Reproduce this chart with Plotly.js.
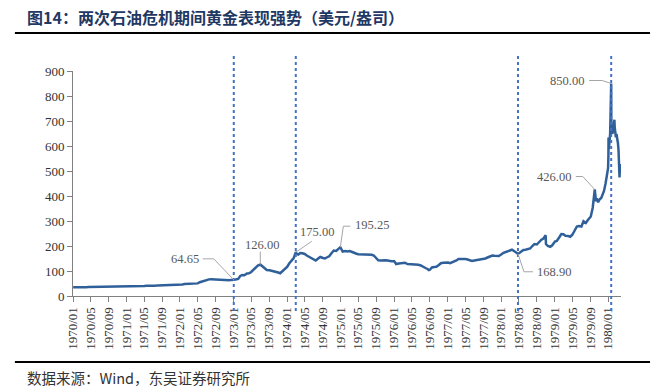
<!DOCTYPE html>
<html>
<head>
<meta charset="utf-8">
<script src="https://cdn.plot.ly/plotly-3.0.1.min.js"></script>
<style>html,body{margin:0;padding:0;background:#fff;}#chart{width:665px;height:390px;}</style>
</head>
<body>
<div id="chart"></div>
<script>
// ---- data (gold price, USD/oz) ----
const dates = [
 '1970-01-02','1970-01-15','1970-02-02','1970-02-16','1970-03-02','1970-03-16','1970-04-01','1970-04-15','1970-05-01','1970-05-15','1970-06-01','1970-06-15',
 '1970-07-01','1970-07-15','1970-08-03','1970-08-17','1970-09-01','1970-09-15','1970-10-01','1970-10-15','1970-11-02','1970-11-16','1970-12-01','1970-12-15',
 '1971-01-04','1971-01-15','1971-02-01','1971-02-15','1971-03-01','1971-03-15','1971-04-01','1971-04-15','1971-05-03','1971-05-17','1971-06-01','1971-06-15',
 '1971-07-01','1971-07-15','1971-08-02','1971-08-16','1971-09-01','1971-09-15','1971-10-01','1971-10-15','1971-11-01','1971-11-15','1971-12-01','1971-12-15',
 '1972-01-03','1972-01-17','1972-02-01','1972-02-15','1972-03-01','1972-03-15','1972-04-03','1972-04-17','1972-05-01','1972-05-15','1972-06-01','1972-06-15',
 '1972-07-03','1972-07-17','1972-08-01','1972-08-15','1972-09-01','1972-09-15','1972-10-02','1972-10-16','1972-11-01','1972-11-15','1972-12-01','1972-12-15',
 '1973-01-02','1973-01-15','1973-02-01','1973-02-15','1973-03-01','1973-03-15','1973-04-02','1973-04-16','1973-05-01','1973-05-15','1973-06-01','1973-06-15',
 '1973-07-02','1973-07-16','1973-08-01','1973-08-15','1973-09-03','1973-09-17','1973-10-01','1973-10-15','1973-11-01','1973-11-15','1973-12-03','1973-12-17',
 '1974-01-02','1974-01-15','1974-02-01','1974-02-15','1974-03-01','1974-03-08','1974-03-18','1974-04-01','1974-04-15','1974-05-01','1974-05-15','1974-06-03','1974-06-17',
 '1974-07-01','1974-07-15','1974-08-01','1974-08-15','1974-09-03','1974-09-16','1974-10-01','1974-10-15','1974-11-01','1974-11-15','1974-12-02','1974-12-16','1974-12-30',
 '1975-01-15','1975-02-03','1975-02-17','1975-03-03','1975-03-17','1975-04-01','1975-04-15','1975-05-01','1975-05-15','1975-06-02','1975-06-16',
 '1975-07-01','1975-07-15','1975-08-01','1975-08-15','1975-09-01','1975-09-15','1975-10-01','1975-10-15','1975-11-03','1975-11-17','1975-12-01','1975-12-15',
 '1976-01-02','1976-01-15','1976-02-02','1976-02-16','1976-03-01','1976-03-15','1976-04-01','1976-04-15','1976-05-03','1976-05-17','1976-06-01','1976-06-15',
 '1976-07-01','1976-07-15','1976-08-02','1976-08-16','1976-08-25','1976-09-01','1976-09-15','1976-10-01','1976-10-15','1976-11-01','1976-11-15','1976-12-01','1976-12-15',
 '1977-01-03','1977-01-17','1977-02-01','1977-02-15','1977-03-01','1977-03-15','1977-04-01','1977-04-15','1977-05-02','1977-05-16','1977-06-01','1977-06-15',
 '1977-07-01','1977-07-15','1977-08-01','1977-08-15','1977-09-01','1977-09-15','1977-10-03','1977-10-17','1977-11-01','1977-11-15','1977-12-01','1977-12-15',
 '1978-01-03','1978-01-16','1978-02-01','1978-02-15','1978-03-01','1978-03-15','1978-04-03','1978-04-17','1978-04-25','1978-05-02','1978-05-15','1978-06-01','1978-06-15',
 '1978-07-03','1978-07-17','1978-08-01','1978-08-15','1978-09-01','1978-09-15','1978-10-02','1978-10-16','1978-10-31','1978-11-02','1978-11-15','1978-12-01','1978-12-15',
 '1979-01-02','1979-01-15','1979-02-01','1979-02-15','1979-03-01','1979-03-15','1979-04-02','1979-04-17','1979-05-01','1979-05-15','1979-06-01','1979-06-15',
 '1979-07-02','1979-07-16','1979-08-01','1979-08-15','1979-09-04','1979-09-17','1979-09-28','1979-10-01','1979-10-09','1979-10-15','1979-10-24',
 '1979-11-01','1979-11-15','1979-12-03','1979-12-14','1979-12-21','1979-12-27','1979-12-31',
 '1980-01-02','1980-01-03','1980-01-04','1980-01-08','1980-01-10','1980-01-14','1980-01-16','1980-01-17','1980-01-18','1980-01-21','1980-01-22','1980-01-24','1980-01-28','1980-01-31',
 '1980-02-04','1980-02-07','1980-02-12','1980-02-14','1980-02-19','1980-02-22','1980-02-26','1980-02-29',
 '1980-03-04','1980-03-07','1980-03-11','1980-03-13','1980-03-17','1980-03-18','1980-03-20','1980-03-24','1980-03-27'
];
const prices = [
 35.2,34.9,34.9,35.0,35.1,35.2,35.5,35.7,35.8,36.0,35.6,35.3,
 35.3,35.3,35.4,35.4,35.9,36.4,37.2,37.6,37.5,37.3,37.4,37.4,
 37.6,38.1,38.6,38.8,38.8,39.0,38.9,39.0,39.9,40.8,40.5,40.0,
 40.6,41.2,42.5,42.9,42.2,41.8,42.4,42.6,42.8,43.0,43.2,43.7,
 44.5,46.5,48.0,48.6,48.2,48.4,48.9,49.2,50.5,55.0,58.0,63.0,
 65.0,66.5,67.5,67.0,66.0,65.0,64.8,65.0,63.5,62.5,63.5,64.5,
 64.65,66.0,68.5,80.0,84.0,83.0,90.0,91.0,96.0,105.0,115.0,122.0,
 126.0,118.0,112.0,104.0,103.0,101.0,100.0,99.0,94.0,91.0,100.0,108.0,
 117,130,140,152,175,168,166,172,171,168,162,155,152,
 145,142,150,156,152,150,155,159,172,182,180,186,195.25,
 178,180,178,180,177,172,170,167,167,165,164,
 166,165,165,162,150,143,142,143,143,142,140,139,
 139,128,130,132,132,133,128,128,127,127,126,125,
 122,116,112,108,103.5,105,114,116,117,124,131,133,134,
 134,131,134,138,142,148,149,150,148,146,142,140,
 142,143,145,145,148,150,155,160,162,161,160,160,
 167,173,176,180,184,185,178,172,168.9,171,177,184,185,
 187,190,200,208,206,215,225,230,243,208,200,197,203,
 218,220,235,248,247,241,240,237,245,258,278,280,
 278,299,292,304,318,353,397,426,380,390,375,
 385,393,420,451,480,491,512,
 559,634,588,606,615,650,705,760,835,850,682,667,650,653,
 676,688,705,675,648,635,648,637,
 640,612,585,555,484,474,510,528,492
];
const tickLabels = ['1970/01','1970/05','1970/09','1971/01','1971/05','1971/09','1972/01','1972/05','1972/09',
 '1973/01','1973/05','1973/09','1974/01','1974/05','1974/09','1975/01','1975/05','1975/09','1976/01','1976/05','1976/09',
 '1977/01','1977/05','1977/09','1978/01','1978/05','1978/09','1979/01','1979/05','1979/09','1980/01'];
const eventDates = ['1973-01-02','1974-03-01','1978-04-25','1980-01-21'];
const calloutDates = ['1973-01-02','1973-07-02','1974-03-01','1974-12-30','1978-04-25','1979-10-01','1980-01-21'];
const calloutValues = [64.65,126.00,175.00,195.25,168.90,426.00,850.00];

// ---- styles (leader geometry in pixels relative to the point; +y = up) ----
const calloutStyle = [
 {path:'M0,0L-20,21L-31,21', xa:'right', xs:-33, ys:21},
 {path:'M0,0L0,13', xa:'center', xs:2, ys:20},
 {path:'M0,0L16,11', xa:'center', xs:21, ys:20},
 {path:'M0,0L3,21L10,21', xa:'left', xs:13, ys:22},
 {path:'M0,0L6,-18L15,-18', xa:'left', xs:17, ys:-18},
 {path:'M0,0L-12,13L-19,13', xa:'right', xs:-22, ys:13},
 {path:'M0,0L-9,3L-22,3', xa:'right', xs:-25, ys:3}
];

const tickVals = tickLabels.map(s => s.replace('/', '-') + '-01');
const serif = 'Liberation Serif';
const cjk = 'Noto Sans CJK SC';

const shapes = [];
const annotations = [];
eventDates.forEach(d => shapes.push({
  type:'line', xref:'x', yref:'paper', x0:d, x1:d, y0:-0.067, y1:1.067,
  line:{color:'#4472C4', width:2, dash:'dot'}
}));
calloutDates.forEach((d, i) => {
  const st = calloutStyle[i];
  shapes.push({type:'path', xref:'x', yref:'y', xsizemode:'pixel', ysizemode:'pixel',
    xanchor:d, yanchor:calloutValues[i], path:st.path, line:{color:'#A6A6A6', width:1}});
  annotations.push({x:d, y:calloutValues[i], xref:'x', yref:'y', text:calloutValues[i].toFixed(2),
    showarrow:false, xanchor:st.xa, yanchor:'middle', xshift:st.xs, yshift:st.ys,
    font:{family:serif, size:12.5, color:'#595959'}});
});
// title and source rules
shapes.push({type:'line', xref:'paper', yref:'paper', x0:-0.106, x1:1.053, y0:1.169, y1:1.169, line:{color:'#000', width:2}});
shapes.push({type:'line', xref:'paper', yref:'paper', x0:-0.106, x1:1.053, y0:-0.293, y1:-0.293, line:{color:'#000', width:2}});
annotations.push({xref:'paper', yref:'paper', x:-0.088, y:1.24, xanchor:'left', yanchor:'middle', showarrow:false,
  text:'<b>图14：两次石油危机期间黄金表现强势（美元/盎司）</b>', font:{family:cjk, size:16, color:'#1F3864'}});
annotations.push({xref:'paper', yref:'paper', x:-0.088, y:-0.364, xanchor:'left', yanchor:'middle', showarrow:false,
  text:'数据来源：Wind，东吴证券研究所', font:{family:cjk, size:14.5, color:'#333'}});

const trace = {x:dates, y:prices, type:'scatter', mode:'lines',
  line:{color:'#30609A', width:2.5}, hoverinfo:'x+y'};

const layout = {
  width:665, height:390, margin:{l:73, r:44, t:71, b:94},
  font:{family:serif, size:12, color:'#333'},
  paper_bgcolor:'#fff', plot_bgcolor:'#fff', showlegend:false,
  xaxis:{type:'date', range:['1970-01-01','1980-03-28'], tickmode:'array', tickvals:tickVals, ticktext:tickLabels,
    tickangle:-90, ticks:'outside', ticklen:5, tickcolor:'#808080', showline:true, linecolor:'#808080', linewidth:1,
    showgrid:false, zeroline:false, tickfont:{family:serif, size:13, color:'#333'}},
  yaxis:{range:[0,900], dtick:100, tick0:0, ticks:'outside', ticklen:5, tickcolor:'#808080', showline:true,
    linecolor:'#808080', linewidth:1, showgrid:false, zeroline:false, tickfont:{family:serif, size:13, color:'#333'}},
  shapes:shapes, annotations:annotations
};
Plotly.newPlot('chart', [trace], layout, {displayModeBar:false, staticPlot:true});
</script>
</body>
</html>
